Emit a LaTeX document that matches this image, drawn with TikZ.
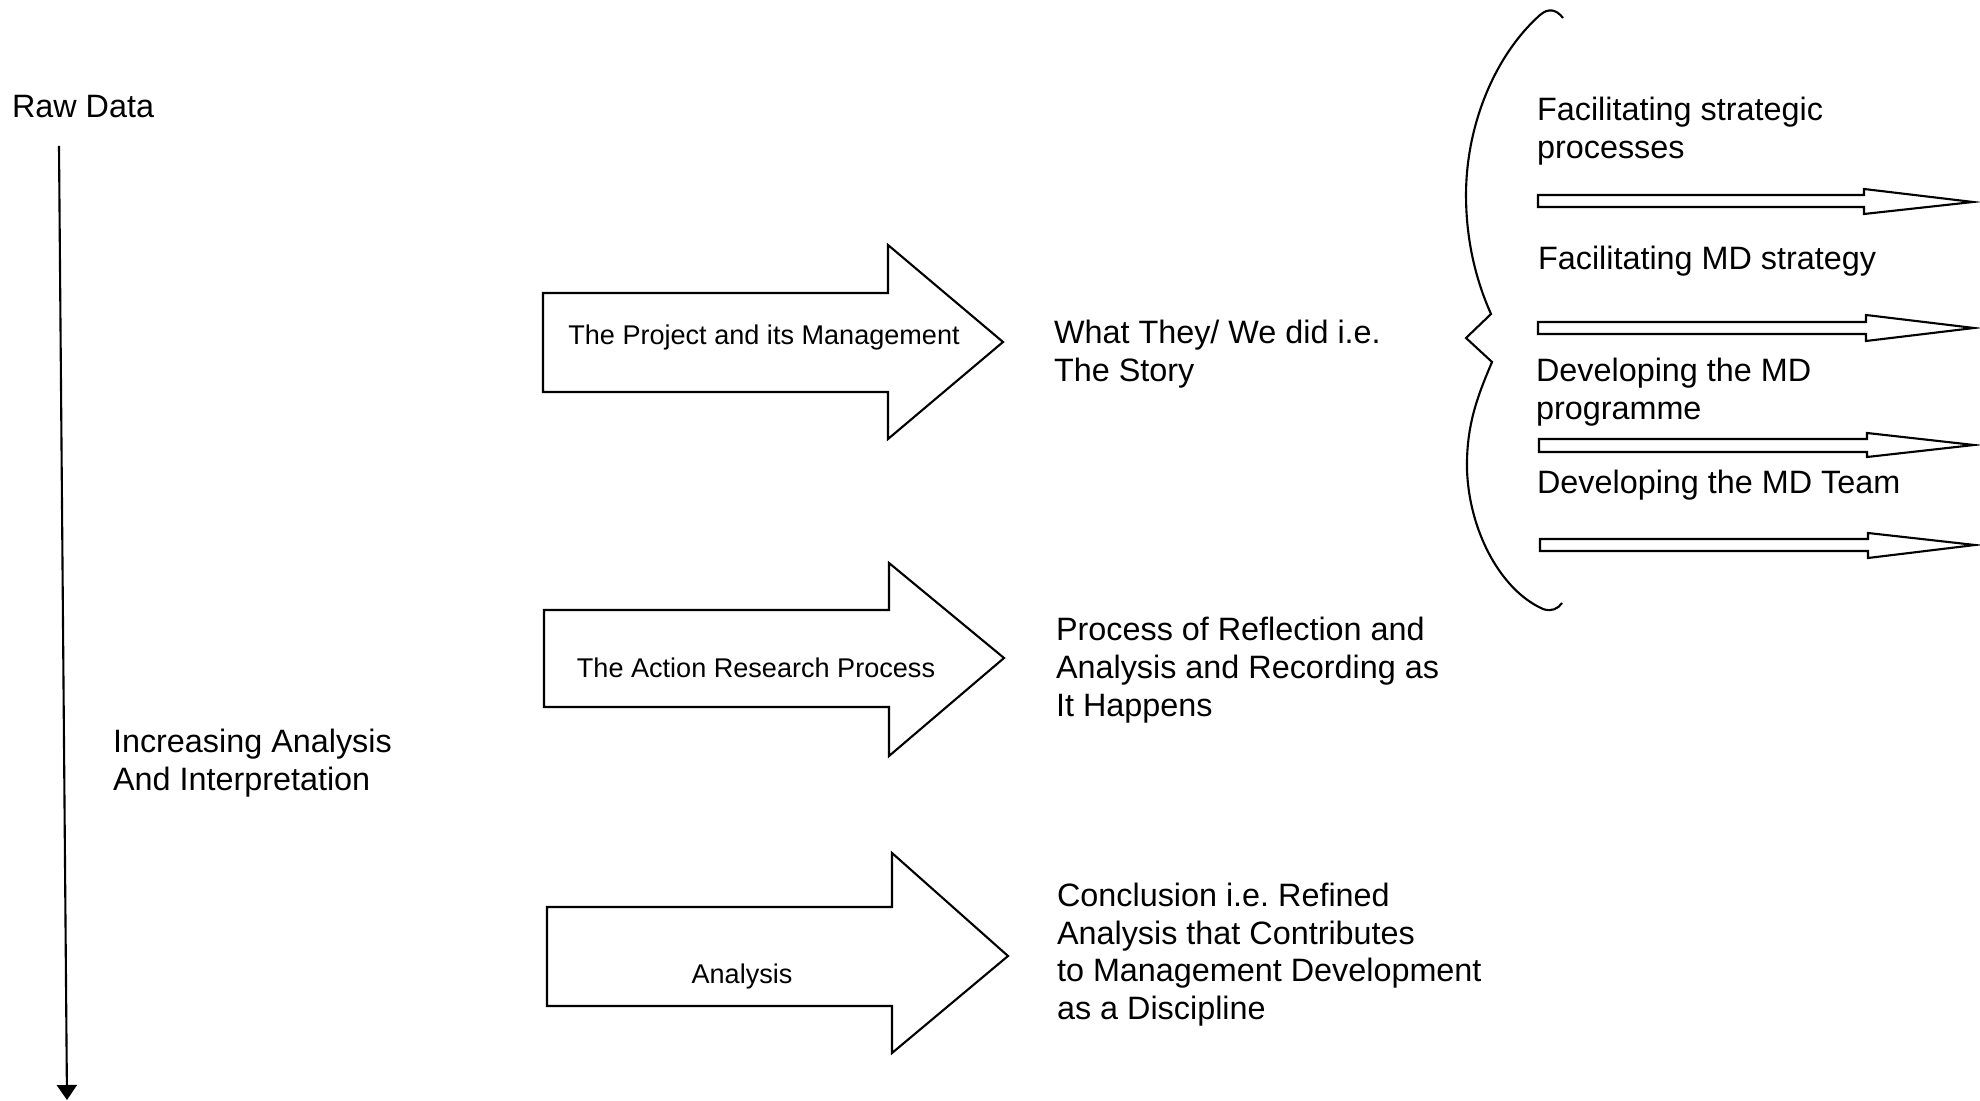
\documentclass[tikz,border=0pt]{standalone}
\usepackage{fontspec}
\setmainfont{Liberation Sans}
\usetikzlibrary{arrows.meta}
\frenchspacing
\begin{document}
\begin{tikzpicture}[x=0.01cm,y=-0.01cm, line width=0.6pt,
  big/.style={font=\fontsize{9.2}{10.67}\selectfont, inner sep=0pt, anchor=base west, align=left},
  small/.style={font=\fontsize{7.7}{9}\selectfont, inner sep=0pt, anchor=base},
  bigarrow/.style={draw, line width=0.6pt, line join=miter, fill=white},
  thinarrow/.style={draw, line width=0.6pt, line join=miter, fill=white},
  bracestyle/.style={draw, line width=0.6pt}]
\useasboundingbox[fill=white] (0,0) rectangle (1980,1101);

% vertical axis (multi-line nodes: base anchor = last line)
\node[big] (raw) at (11,118) {Raw Data};
\coordinate (vtop) at (59,146);
\coordinate (vbot) at (67,1100);
\draw[-{Triangle[width=0.2cm,length=0.15cm]}] (vtop) -- (vbot);
\node[big] (inc) at (112,790) {Increasing Analysis\\And Interpretation};

% big block arrows
\path[bigarrow] (543,293) -- (888,293) -- (888,245) -- (1003,342) -- (888,439) -- (888,392) -- (543,392) -- cycle;
\path[bigarrow] (544,610) -- (889,610) -- (889,563) -- (1004,658) -- (889,756) -- (889,707) -- (544,707) -- cycle;
\path[bigarrow] (547,907) -- (892,907) -- (892,853) -- (1008,956) -- (892,1053) -- (892,1006) -- (547,1006) -- cycle;
\node[small] (pm) at (764,345) {The Project and its Management};
\node[small] (arp) at (756,678) {The Action Research Process};
\node[small] (an) at (742,983) {Analysis};

% middle texts
\node[big] (story) at (1053,381.5) {What They/ We did i.e.\\The Story};
\node[big] (refl) at (1055,716) {Process of Reflection and\\Analysis and Recording as\\It Happens};
\node[big] (concl) at (1056,1019.5) {Conclusion i.e. Refined\\Analysis that Contributes\\to Management Development\\as a Discipline};

% brace
\path[bracestyle] (1563,18) .. controls (1556,9) and (1548,8) .. (1540,15)
  .. controls (1495,55) and (1466,125) .. (1466,195)
  .. controls (1466,245) and (1478,285) .. (1491,314)
  -- (1466,338) -- (1492,362)
  .. controls (1478,395) and (1466,425) .. (1467,470)
  .. controls (1469,530) and (1500,590) .. (1543,609)
  .. controls (1551,612) and (1558,609) .. (1562,603);

% right texts
\node[big] (f1) at (1536,158.5) {Facilitating strategic\\processes};
\node[big] (f2) at (1537,270) {Facilitating MD strategy};
\node[big] (f3) at (1535,419.5) {Developing the MD\\programme};
\node[big] (f4) at (1536,494) {Developing the MD Team};

% thin arrows
\path[thinarrow] (1538,195) -- (1864,195) -- (1864,189) -- (1973,202) -- (1864,214) -- (1864,207) -- (1538,207) -- cycle;
\path[thinarrow] (1538,322) -- (1866,322) -- (1866,315) -- (1974,328) -- (1866,341) -- (1866,334) -- (1538,334) -- cycle;
\path[thinarrow] (1539,439) -- (1867,439) -- (1867,433) -- (1974,445) -- (1867,457) -- (1867,452) -- (1539,452) -- cycle;
\path[thinarrow] (1540,539) -- (1868,539) -- (1868,533) -- (1975,545) -- (1868,558) -- (1868,551) -- (1540,551) -- cycle;
\end{tikzpicture}
\end{document}
